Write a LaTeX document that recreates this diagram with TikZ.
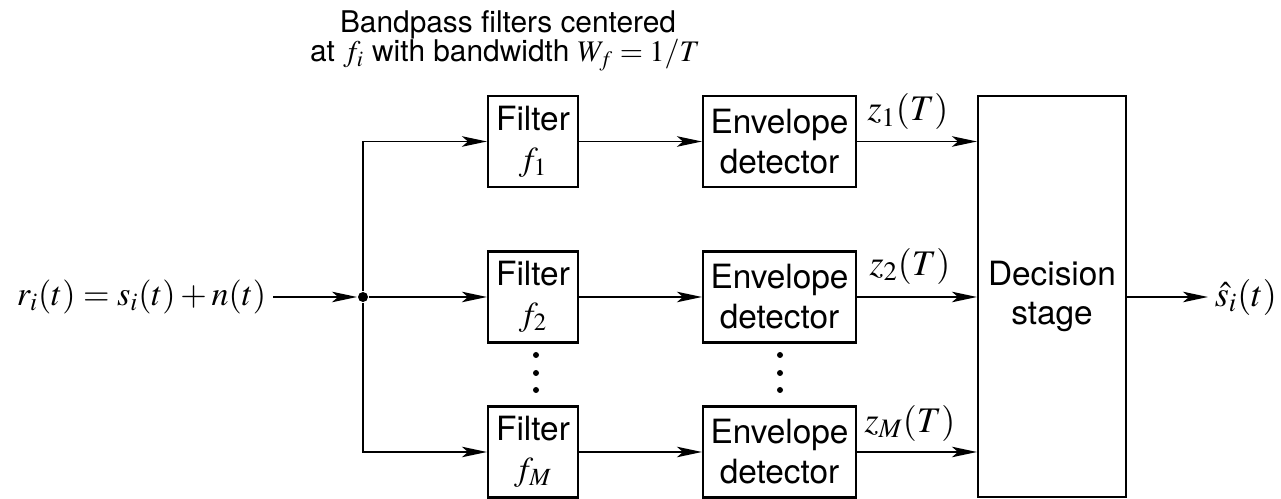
\documentclass[tikz,border=0pt]{standalone}
\usepackage{mathptmx}
\usepackage{fontspec}
\setmainfont{TeX Gyre Heros}
\usetikzlibrary{arrows.meta}
\begin{document}
\begin{tikzpicture}[x=0.02cm,y=-0.02cm,
  line width=1.1pt,
  font=\fontsize{19}{22.7}\selectfont,
  blk/.style={draw, line width=1.2pt, inner sep=0pt, align=center},
  filt/.style={blk, minimum width=1.8cm, minimum height=1.82cm},
  env/.style={blk, minimum width=3.06cm, minimum height=1.82cm},
  arr/.style={-{Stealth[length=5mm,width=2.1mm,inset=1.2mm]}},
  lbl/.style={inner sep=0pt, font=\fontsize{20.5}{24}\selectfont},
  ttl/.style={inner sep=0pt, anchor=base, font=\fontsize{17}{16.4}\selectfont},
  vdot/.style={circle, fill, inner sep=0pt, minimum size=0.12cm},
  jdot/.style={circle, fill, inner sep=0pt, minimum size=0.2cm}
]
\useasboundingbox (0,0) rectangle (1281,499);

% title
\node[ttl] (t1) at (508,33) {Bandpass filters centered};
\node[ttl] (t2) at (505,62) {at $f_i$ with bandwidth $W_f = 1/T$};

% blocks
\node[filt] (f1) at (533,141.5) {Filter\\$f_1$};
\node[filt] (f2) at (533,297) {Filter\\$f_2$};
\node[filt] (fM) at (533,452) {Filter\\$f_M$};
\node[env] (e1) at (779.5,141.5) {Envelope\\detector};
\node[env] (e2) at (779.5,297) {Envelope\\detector};
\node[env] (eM) at (779.5,452) {Envelope\\detector};
\node[blk, minimum width=2.96cm, minimum height=8.02cm] (dec) at (1052,296.5) {Decision\\stage};

% dots
\node[vdot] (fd1) at (536,355) {};
\node[vdot] (fd2) at (536,373) {};
\node[vdot] (fd3) at (536,390) {};
\node[vdot] (ed1) at (780,355) {};
\node[vdot] (ed2) at (780,373) {};
\node[vdot] (ed3) at (780,390) {};

% input and junction
\node[lbl, anchor=east, inner xsep=3.4pt, font=\fontsize{19.4}{23}\selectfont] (in) at (273,297) {$r_i(t) = s_i(t) + n(t)$};
\node[jdot] (j) at (363,297) {};
\draw[arr] (in.east) -- (j.west);
\draw[arr] (j) |- (f1.west);
\draw[arr] (j) -- (f2.west);
\draw[arr] (j) |- (fM.west);

% filter -> envelope
\draw[arr] (f1.east) -- (e1.west);
\draw[arr] (f2.east) -- (e2.west);
\draw[arr] (fM.east) -- (eM.west);

% envelope -> decision
\draw[arr] (e1.east) -- (e1.east -| dec.west);
\draw[arr] (e2.east) -- (e2.east -| dec.west);
\draw[arr] (eM.east) -- (eM.east -| dec.west);
\node[lbl] (z1) at (908,112) {$z_1(T)$};
\node[lbl] (z2) at (910,266) {$z_2(T)$};
\node[lbl] (zM) at (910,423) {$z_M(T)$};

% output
\node[lbl, anchor=west, inner xsep=3.4pt] (out) at (1208,297) {$\hat{s}_i(t)$};
\draw[arr] (dec.east |- out.west) -- (out.west);
\end{tikzpicture}
\end{document}
